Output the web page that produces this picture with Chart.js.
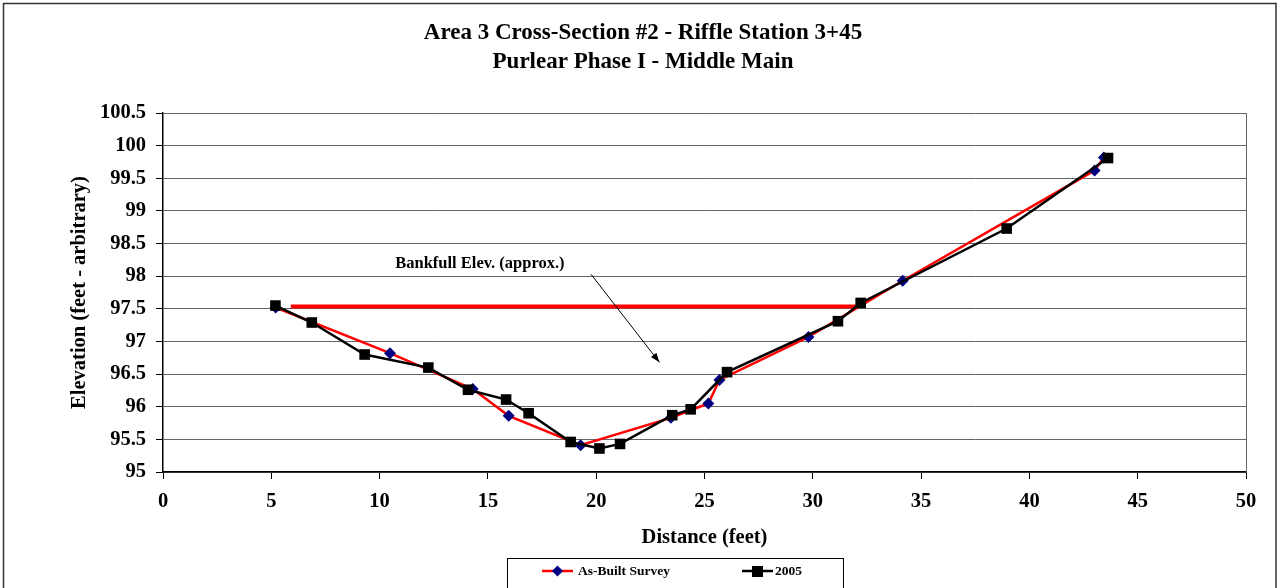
<!DOCTYPE html>
<html>
<head>
<meta charset="utf-8">
<script src="https://cdn.jsdelivr.net/npm/chart.js@4/dist/chart.umd.min.js"></script>
<style>
  html, body { margin: 0; padding: 0; background: #fff; }
  canvas { display: block; }
</style>
</head>
<body>
<canvas id="chart" width="1281" height="588"></canvas>
<script>
// As-Built survey points (distance ft, elevation)
const asBuiltX = [5.2, 10.48, 14.3, 15.96, 19.28, 23.45, 25.18, 25.69, 29.8, 34.15, 43.01, 43.44];
const asBuiltY = [97.52, 96.82, 96.27, 95.86, 95.41, 95.83, 96.05, 96.41, 97.07, 97.93, 99.62, 99.82];

// 2005 survey points
const survey05X = [5.19, 6.87, 9.31, 12.25, 14.08, 15.84, 16.88, 18.82, 20.15, 21.1, 23.51, 24.36, 26.04, 31.16, 32.21, 38.95, 43.63];
const survey05Y = [97.55, 97.29, 96.8, 96.6, 96.26, 96.11, 95.9, 95.46, 95.36, 95.43, 95.87, 95.96, 96.53, 97.31, 97.59, 98.73, 99.81];

// bankfull line ends
const bankfullX = [5.9, 32.05];
const bankfullY = [97.535, 97.535];

const xTicks = [0, 5, 10, 15, 20, 25, 30, 35, 40, 45, 50];
const yTicks = [95, 95.5, 96, 96.5, 97, 97.5, 98, 98.5, 99, 99.5, 100, 100.5];

const titleLines = ['Area 3 Cross-Section #2 - Riffle Station 3+45', 'Purlear Phase I - Middle Main'];
const seriesNames = ['As-Built Survey', '2005'];

const serif = "'Liberation Serif', 'Times New Roman', serif";

const pts = (xs, ys) => xs.map((x, i) => ({ x: x, y: ys[i] }));

// frame, callout and legend drawn on top of the chart
const extras = {
    id: 'extras',
    beforeDraw(chart) {
        const c = chart.ctx;
        c.save();
        c.fillStyle = '#fff';
        c.fillRect(0, 0, chart.width, chart.height);
        c.restore();
    },
    afterDatasetsDraw(chart) {
        const c = chart.ctx;
        const a = chart.chartArea;
        c.save();
        c.strokeStyle = '#666';
        c.lineWidth = 1;
        c.beginPath();
        c.moveTo(a.right + 0.5, a.top);
        c.lineTo(a.right + 0.5, a.bottom);
        c.stroke();
        c.restore();
    },
    afterDraw(chart) {
        const c = chart.ctx;
        const xs = chart.scales.x, ys = chart.scales.y;
        c.save();

        // outer frame
        c.strokeStyle = '#333';
        c.lineWidth = 1.5;
        c.strokeRect(3.5, 3.5, 1272.5, 600);

        // bankfull callout
        c.fillStyle = '#000';
        c.font = 'bold 16.5px ' + serif;
        c.textAlign = 'center';
        c.textBaseline = 'middle';
        c.fillText('Bankfull Elev. (approx.)', xs.getPixelForValue(14.63), ys.getPixelForValue(98.19));

        const x1 = xs.getPixelForValue(19.76), y1 = ys.getPixelForValue(98.03);
        const x2 = xs.getPixelForValue(22.92), y2 = ys.getPixelForValue(96.68);
        c.strokeStyle = '#000';
        c.lineWidth = 1;
        c.beginPath();
        c.moveTo(x1, y1);
        c.lineTo(x2, y2);
        c.stroke();
        const ang = Math.atan2(y2 - y1, x2 - x1);
        c.beginPath();
        c.moveTo(x2, y2);
        c.lineTo(x2 - 10 * Math.cos(ang - 0.35), y2 - 10 * Math.sin(ang - 0.35));
        c.lineTo(x2 - 10 * Math.cos(ang + 0.35), y2 - 10 * Math.sin(ang + 0.35));
        c.closePath();
        c.fill();

        // legend
        c.strokeStyle = '#000';
        c.lineWidth = 1;
        c.strokeRect(507.5, 558.5, 336, 40);
        const ly = 571;
        c.strokeStyle = '#ff0000';
        c.lineWidth = 2.5;
        c.beginPath(); c.moveTo(542, ly); c.lineTo(573, ly); c.stroke();
        c.fillStyle = '#000080';
        c.beginPath();
        c.moveTo(557.5, ly - 5.5); c.lineTo(563, ly); c.lineTo(557.5, ly + 5.5); c.lineTo(552, ly);
        c.closePath(); c.fill();
        c.strokeStyle = '#000';
        c.beginPath(); c.moveTo(742, ly); c.lineTo(773, ly); c.stroke();
        c.fillStyle = '#000';
        c.fillRect(752, ly - 5, 11, 11);
        c.font = 'bold 13.5px ' + serif;
        c.textAlign = 'left';
        c.fillText(seriesNames[0], 578, ly + 1);
        c.fillText(seriesNames[1], 775, ly + 1);
        c.restore();
    }
};

new Chart(document.getElementById('chart'), {
    type: 'scatter',
    data: {
        datasets: [
            {
                label: seriesNames[1],
                data: pts(survey05X, survey05Y),
                showLine: true,
                borderColor: '#000',
                borderWidth: 2.5,
                pointStyle: 'rect',
                pointRadius: 7.5,
                pointBackgroundColor: '#000',
                pointBorderWidth: 0,
                order: 0
            },
            {
                label: seriesNames[0],
                data: pts(asBuiltX, asBuiltY),
                showLine: true,
                borderColor: '#ff0000',
                borderWidth: 2.5,
                pointStyle: 'rectRot',
                pointRadius: 6,
                pointBackgroundColor: '#000080',
                pointBorderWidth: 0,
                order: 1
            },
            {
                label: 'Bankfull',
                data: pts(bankfullX, bankfullY),
                showLine: true,
                borderColor: '#ff0000',
                borderWidth: 4,
                pointRadius: 0,
                order: 2
            }
        ]
    },
    options: {
        responsive: false,
        animation: false,
        events: [],
        layout: { padding: { left: 40, right: 35, top: 0, bottom: 0 } },
        plugins: {
            legend: { display: false },
            tooltip: { enabled: false },
            title: {
                display: true,
                text: titleLines,
                color: '#000',
                font: { family: serif, size: 23, weight: 'bold', lineHeight: 29 / 23 },
                padding: { top: 18.5, bottom: 36.5 }
            }
        },
        scales: {
            x: {
                type: 'linear',
                min: 0, max: 50,
                afterFit: s => { s.height = 116; },
                afterBuildTicks: s => { s.ticks = xTicks.map(v => ({ value: v })); },
                grid: { drawOnChartArea: false, drawTicks: true, tickLength: 7, tickColor: '#000' },
                border: { color: '#000', width: 1.5 },
                ticks: { color: '#000', padding: 10, maxRotation: 0, font: { family: serif, size: 20.5, weight: 'bold' } },
                title: {
                    display: true, text: 'Distance (feet)', color: '#000',
                    font: { family: serif, size: 20.5, weight: 'bold', lineHeight: 1.2 },
                    padding: { top: 0, bottom: 38 }
                }
            },
            y: {
                type: 'linear',
                min: 95, max: 100.5,
                afterFit: s => { s.width = 123; },
                afterBuildTicks: s => { s.ticks = yTicks.map(v => ({ value: v })); },
                grid: { color: '#666', lineWidth: 1, drawTicks: true, tickLength: 7, tickColor: '#000' },
                border: { color: '#000', width: 1.5 },
                ticks: { color: '#000', padding: 10, font: { family: serif, size: 20.5, weight: 'bold' }, callback: v => String(v) },
                title: {
                    display: true, text: 'Elevation (feet - arbitrary)', color: '#000',
                    font: { family: serif, size: 20.5, weight: 'bold', lineHeight: 1.2 },
                    padding: { top: 27, bottom: 0 }
                }
            }
        }
    },
    plugins: [extras]
});
</script>
</body>
</html>
